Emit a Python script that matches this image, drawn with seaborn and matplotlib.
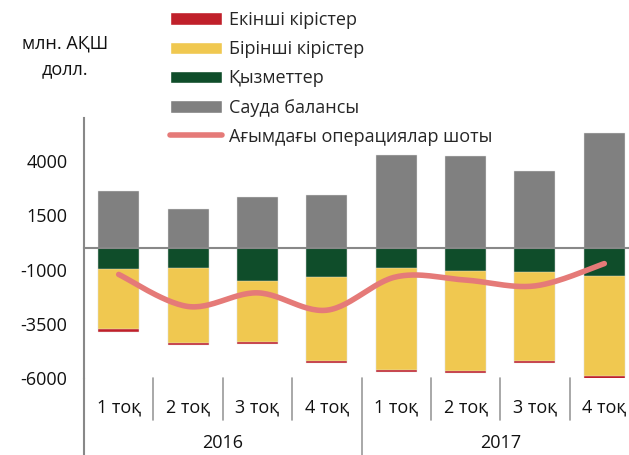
import numpy as np
import pandas as pd
import matplotlib
matplotlib.use('Agg')
import matplotlib.pyplot as plt
import seaborn as sns
from matplotlib.patches import Patch
from matplotlib.lines import Line2D

# ------------------------------
# Data (млн. АҚШ долл.)
# ------------------------------
quarters = ['1 тоқ', '2 тоқ', '3 тоқ', '4 тоқ', '1 тоқ', '2 тоқ', '3 тоқ', '4 тоқ']
years = ['2016', '2017']
trade_balance = [2630, 1780, 2340, 2430, 4310, 4260, 3570, 5290]
services = [-980, -900, -1530, -1330, -920, -1070, -1120, -1290]
primary_income = [-2760, -3500, -2800, -3870, -4700, -4600, -4090, -4620]
secondary_income = [-120, -90, -80, -95, -95, -95, -95, -125]
current_account = [-1220, -2700, -2070, -2870, -1330, -1480, -1750, -720]

labels = ['Екінші кірістер', 'Бірінші кірістер', 'Қызметтер', 'Сауда балансы',
          'Ағымдағы операциялар шоты']
c_red = '#C0202A'
c_yellow = '#F0C850'
c_green = '#0F4D2A'
c_gray = '#808080'
c_line = '#E57A78'

pos = np.arange(len(quarters))
df = pd.DataFrame({'pos': pos, 'trade': trade_balance, 'serv': services,
                   'prim': primary_income, 'sec': secondary_income})
# cumulative levels for the negative stack (drawn as overlays)
df['lvl_green'] = df['serv']
df['lvl_yellow'] = df['serv'] + df['prim']
df['lvl_red'] = df['lvl_yellow'] + df['sec']

# smoothed line (Catmull-Rom through the data points)
def smooth(x, y, n=30):
    pts = np.column_stack([x, y]).astype(float)
    out = []
    for i in range(len(pts) - 1):
        p0 = pts[i - 1] if i > 0 else pts[i]
        p1, p2 = pts[i], pts[i + 1]
        p3 = pts[i + 2] if i + 2 < len(pts) else pts[i + 1]
        t = np.linspace(0, 1, n)[:, None]
        seg = 0.5 * ((2 * p1) + (-p0 + p2) * t + (2 * p0 - 5 * p1 + 4 * p2 - p3) * t ** 2
                     + (-p0 + 3 * p1 - 3 * p2 + p3) * t ** 3)
        out.append(seg if i == 0 else seg[1:])
    out = np.vstack(out)
    return out[:, 0], out[:, 1]

lx, ly = smooth(pos, current_account)

# ------------------------------
# Plot
# ------------------------------
sns.set_style('white')
plt.rcParams['font.family'] = ['Open Sans', 'DejaVu Sans']
plt.rcParams['axes.unicode_minus'] = False

fig = plt.figure(figsize=(6.29, 4.55), dpi=100)
ax = fig.add_axes([84 / 629, 77 / 455, 555 / 629, 260 / 455])

bar_kw = dict(native_scale=True, width=0.59, saturation=1, errorbar=None,
              edgecolor='#e6e6e6', linewidth=0.3, ax=ax)
sns.barplot(data=df, x='pos', y='lvl_red', color=c_red, **bar_kw)
sns.barplot(data=df, x='pos', y='lvl_yellow', color=c_yellow, **bar_kw)
sns.barplot(data=df, x='pos', y='lvl_green', color=c_green, **bar_kw)
sns.barplot(data=df, x='pos', y='trade', color=c_gray, **bar_kw)

sns.lineplot(x=lx, y=ly, sort=False, estimator=None, color=c_line, lw=4,
             solid_capstyle='round', ax=ax, zorder=5)

ax.set_xlim(-0.5, 7.5)
ax.set_ylim(-6000, 6000)
ax.set_yticks([-6000, -3500, -1000, 1500, 4000])
ax.set_xticks(np.arange(0.5, 7, 1))
ax.set_xticklabels([])
ax.set_xlabel('')
ax.set_ylabel('')

for s in ['top', 'right']:
    ax.spines[s].set_visible(False)
ax.spines['bottom'].set_position(('data', 0))
ax.spines['bottom'].set_color('#888888')
ax.spines['bottom'].set_linewidth(1.5)
ax.spines['bottom'].set_zorder(4)
ax.spines['left'].set_color('#888888')
ax.spines['left'].set_linewidth(1.5)
ax.tick_params(axis='y', direction='out', length=6, width=1.5, color='#888888',
               labelsize=13, labelcolor='#111111', pad=6)
ax.tick_params(axis='x', direction='out', length=6, width=1.5, color='#888888')

# category separators and labels under the plot area
trans = ax.get_xaxis_transform()
for b in np.arange(0.5, 7, 1):
    low = -0.296 if b == 3.5 else -0.162
    ax.plot([b, b], [0, low], transform=trans, color='#999999', lw=1.2, clip_on=False)
ax.plot([-0.5, -0.5], [0, -0.3], transform=trans, color='#888888', lw=1.5, clip_on=False)
for i, q in enumerate(quarters):
    ax.text(i, -0.112, q, transform=trans, ha='center', va='center', fontsize=13,
            color='#111111')
for j, y in enumerate(years):
    ax.text(1.5 + 4 * j, -0.25, y, transform=trans, ha='center', va='center',
            fontsize=13, color='#111111')

fig.text(65 / 629, 1 - 44 / 455, 'млн. АҚШ', ha='center', va='center', fontsize=13,
         color='#111111')
fig.text(65 / 629, 1 - 69 / 455, 'долл.', ha='center', va='center', fontsize=13,
         color='#111111')

handles = [Patch(facecolor=c_red), Patch(facecolor=c_yellow), Patch(facecolor=c_green),
           Patch(facecolor=c_gray),
           Line2D([0], [0], color=c_line, lw=4, solid_capstyle='round')]
fig.legend(handles, labels, loc='upper left', bbox_to_anchor=(170 / 629, 1 - 11 / 455),
           frameon=False, fontsize=13, handlelength=2.9, handleheight=0.7,
           handletextpad=0.35, labelspacing=0.62, borderpad=0, borderaxespad=0)

plt.savefig('out.png', dpi=100)
plt.close()
